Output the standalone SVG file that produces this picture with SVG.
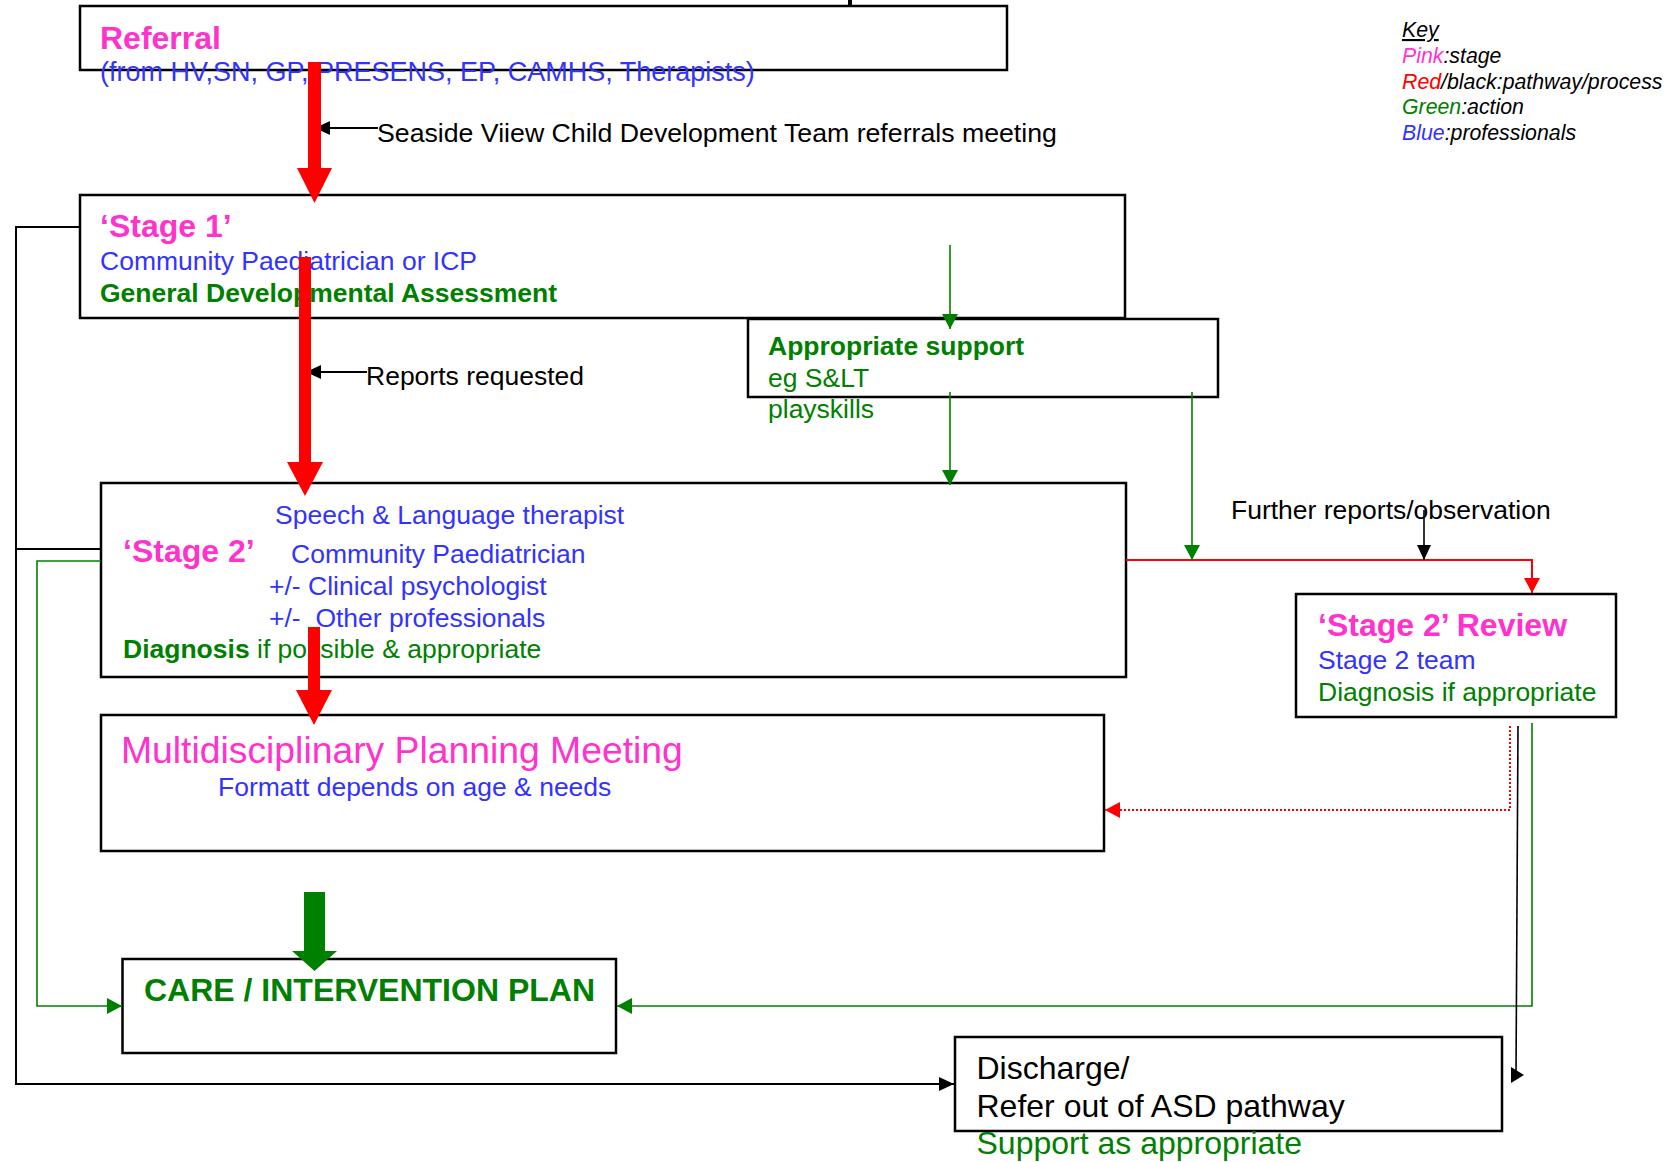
<svg xmlns="http://www.w3.org/2000/svg" width="1671" height="1162" viewBox="0 0 1671 1162">
<style>
text{font-family:"Liberation Sans",Arial,sans-serif}
.box{fill:none;stroke:#000;stroke-width:2.5}
.r{font-size:26.5px}
.t{font-size:32px;font-weight:bold}
.d{font-size:32px}
.pk{fill:#ff33cc}
.bl{fill:#3333ff}
.gr{fill:#008000}
.rd{fill:#ff0000}
.bk{fill:#000}
.b{font-weight:bold}
.key{font-size:21.3px;font-style:italic}
.lk{fill:none;stroke:#000;stroke-width:2}
.lg{fill:none;stroke:#008000;stroke-width:1.6}
.lr{fill:none;stroke:#ff0000;stroke-width:2}
.ld{fill:none;stroke:#ff0000;stroke-width:2;stroke-dasharray:2,2}
</style>
<defs>
<marker id="mg" viewBox="0 0 15 16" refX="15" refY="8" markerWidth="15" markerHeight="16" markerUnits="userSpaceOnUse" orient="auto"><path d="M0,0L15,8L0,16z" fill="#008000"/></marker>
<marker id="mk" viewBox="0 0 15 14" refX="15" refY="7" markerWidth="15" markerHeight="14" markerUnits="userSpaceOnUse" orient="auto"><path d="M0,0L15,7L0,14z" fill="#000"/></marker>
<marker id="mr" viewBox="0 0 15 16" refX="15" refY="8" markerWidth="15" markerHeight="16" markerUnits="userSpaceOnUse" orient="auto"><path d="M0,0L15,8L0,16z" fill="#ff0000"/></marker>
</defs>
<rect width="1671" height="1162" fill="#fff"/>

<g id="referral">
<rect class="box" x="80" y="6" width="927" height="64"/>
<text class="t pk" x="100" y="49">Referral</text>
<text class="bl" style="font-size:27px" x="100" y="81">(from HV,SN, GP, PRESENS, EP, CAMHS, Therapists)</text>
</g>

<g id="stage1">
<rect class="box" x="80" y="195" width="1045" height="123"/>
<text class="t pk" x="100" y="237">‘Stage 1’</text>
<text class="r bl" x="100" y="270">Community Paediatrician or ICP</text>
<text class="r gr b" x="100" y="302">General Developmental Assessment</text>
</g>

<g id="support">
<rect class="box" x="748" y="319" width="470" height="78"/>
<text class="r gr b" x="768" y="355">Appropriate support</text>
<text class="r gr" x="768" y="387">eg S&amp;LT</text>
<text class="r gr" x="768" y="418">playskills</text>
</g>

<g id="stage2">
<rect class="box" x="101" y="483" width="1025" height="194"/>
<text class="r bl" x="275" y="524">Speech &amp; Language therapist</text>
<text class="t pk" x="123" y="562">‘Stage 2’</text>
<text class="r bl" x="291" y="563">Community Paediatrician</text>
<text class="r bl" x="269" y="595">+/- Clinical psychologist</text>
<text class="r bl" x="269" y="627" xml:space="preserve">+/-  Other professionals</text>
<text class="r gr" x="123" y="658"><tspan class="b">Diagnosis</tspan> if possible &amp; appropriate</text>
</g>

<g id="review">
<rect class="box" x="1296" y="594" width="320" height="123"/>
<text class="t pk" x="1318" y="636">‘Stage 2’ Review</text>
<text class="r bl" x="1318" y="669">Stage 2 team</text>
<text class="r gr" x="1318" y="701">Diagnosis if appropriate</text>
</g>

<g id="mpm">
<rect class="box" x="101" y="715" width="1003" height="136"/>
<text class="pk" style="font-size:37.3px" x="121" y="763">Multidisciplinary Planning Meeting</text>
<text class="r bl" x="218" y="796">Formatt depends on age &amp; needs</text>
</g>

<g id="care">
<rect class="box" x="122.5" y="959" width="493.5" height="94"/>
<text class="t gr" x="144" y="1001">CARE / INTERVENTION PLAN</text>
</g>

<g id="discharge">
<rect class="box" x="955" y="1037" width="547" height="94"/>
<text class="d bk" x="976.5" y="1079">Discharge/</text>
<text class="d bk" x="976.5" y="1117">Refer out of ASD pathway</text>
<text class="d gr" x="976.5" y="1154">Support as appropriate</text>
</g>

<g id="key">
<text class="key bk" x="1402" y="37" text-decoration="underline">Key</text>
<text class="key bk" x="1402" y="63"><tspan class="pk">Pink</tspan>:stage</text>
<text class="key bk" x="1402" y="89"><tspan class="rd">Red</tspan>/black:pathway/process</text>
<text class="key bk" x="1402" y="114"><tspan class="gr">Green</tspan>:action</text>
<text class="key bk" x="1402" y="140"><tspan class="bl">Blue</tspan>:professionals</text>
</g>

<g id="labels">
<text class="bk" style="font-size:26.7px" x="377" y="142">Seaside Viiew Child Development Team referrals meeting</text>
<text class="r bk" x="366" y="385">Reports requested</text>
<text class="r bk" x="1231" y="519">Further reports/observation</text>
</g>

<g id="connectors">
<rect x="848" y="0" width="4" height="6" fill="#000"/>
<polyline class="lk" points="80,227 16,227 16,1084 954,1084" marker-end="url(#mk)"/>
<line class="lk" x1="16" y1="549" x2="101" y2="549"/>
<polyline class="lg" points="101,561 37,561 37,1006 122,1006" marker-end="url(#mg)"/>
<polyline class="lg" points="1532,723 1532,1006 617,1006" marker-end="url(#mg)"/>
<polyline class="lr" points="1126,560 1532,560 1532,593" marker-end="url(#mr)"/>
<line class="lg" x1="950" y1="245" x2="950" y2="329" marker-end="url(#mg)"/>
<line class="lg" x1="950" y1="392" x2="950" y2="485" marker-end="url(#mg)"/>
<line class="lg" x1="1192" y1="392" x2="1192" y2="560" marker-end="url(#mg)"/>
<line class="lk" x1="1424" y1="510" x2="1424" y2="560" marker-end="url(#mk)" style="stroke-width:1.6"/>
<polyline class="ld" points="1510,726 1510,810 1105,810" marker-end="url(#mr)"/>
<line class="lk" x1="1518" y1="726" x2="1516" y2="1075" style="stroke-width:1.6"/>
<polygon points="1511,1067 1524,1075 1511,1083" fill="#000"/>
<line class="lk" x1="378" y1="128" x2="315" y2="128" marker-end="url(#mk)"/>
<line class="lk" x1="367" y1="372" x2="306" y2="372" marker-end="url(#mk)"/>
<polygon points="308,62 321,62 321,168 332,168 314.5,203 297,168 308,168" fill="#ff0000"/>
<polygon points="299,257 311,257 311,462 323,462 305,496 287,462 299,462" fill="#ff0000"/>
<polygon points="308,627 320,627 320,690 332,690 314,725 296,690 308,690" fill="#ff0000"/>
<polygon points="304,892 325,892 325,951 337,951 314.5,971 292,951 304,951" fill="#008000"/>
</g>
</svg>
